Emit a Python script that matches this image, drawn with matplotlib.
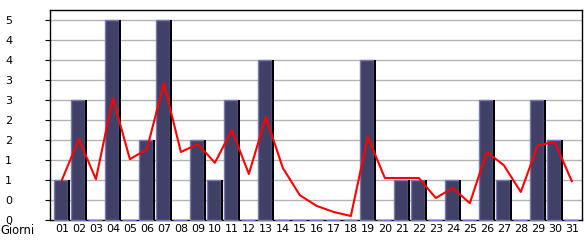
import matplotlib
matplotlib.use("Agg")
import matplotlib.pyplot as plt
import numpy as np
import math
from matplotlib.ticker import FixedLocator, FuncFormatter

days = ["01","02","03","04","05","06","07","08","09","10","11","12","13","14","15","16",
        "17","18","19","20","21","22","23","24","25","26","27","28","29","30","31"]
counts = [1,3,0,5,0,2,5,0,2,1,3,0,4,0,0,0,0,0,4,0,1,1,0,1,0,3,1,0,3,2,0]
trend = [1.0,2.02,1.02,3.05,1.52,1.77,3.42,1.7,1.9,1.43,2.25,1.15,2.57,1.3,0.62,0.35,
         0.2,0.1,2.08,1.05,1.05,1.05,0.55,0.8,0.42,1.7,1.37,0.7,1.87,1.95,0.97]
yticks = [0,0.5,1,1.5,2,2.5,3,3.5,4,4.5,5]

fig = plt.figure(figsize=(5.85, 2.4), dpi=100)
ax = fig.add_axes([50/585, 20/240, 532/585, 210/240])
x = np.arange(len(days))
w = 14/17
sw = 2/17
ax.bar(x - sw/2, counts, width=w, color="#414168", edgecolor="#7878b0", linewidth=1.0,
       zorder=3, clip_on=False)
ax.bar(x - sw/2 + w/2 + sw/2, counts, width=sw, color="black", linewidth=0, zorder=3)
ax.plot(x, trend, color="#ff0000", linewidth=1.5, zorder=4)

ax.set_xlim(-0.7, 30.6)
ax.set_ylim(0, 5.25)
ax.yaxis.set_major_locator(FixedLocator(yticks))
ax.yaxis.set_major_formatter(FuncFormatter(lambda v, p: str(int(math.floor(v + 1e-9)))))
ax.grid(axis="y", color="#b4b4b4", linewidth=1.0, zorder=0)
ax.set_axisbelow(True)
ax.set_xticks(x)
ax.set_xticklabels(days)
ax.tick_params(axis="x", length=0, labelsize=8, pad=3)
ax.tick_params(axis="y", length=3.6, labelsize=8, pad=28.8, direction="out")
for lab in ax.get_yticklabels():
    lab.set_horizontalalignment("left")
for s in ax.spines.values():
    s.set_linewidth(1.0)
    s.set_color("black")
fig.text(0/585, 1 - 231/240, "Giorni", fontsize=8.3, va="center", ha="left")
fig.savefig("out.png", dpi=100)
